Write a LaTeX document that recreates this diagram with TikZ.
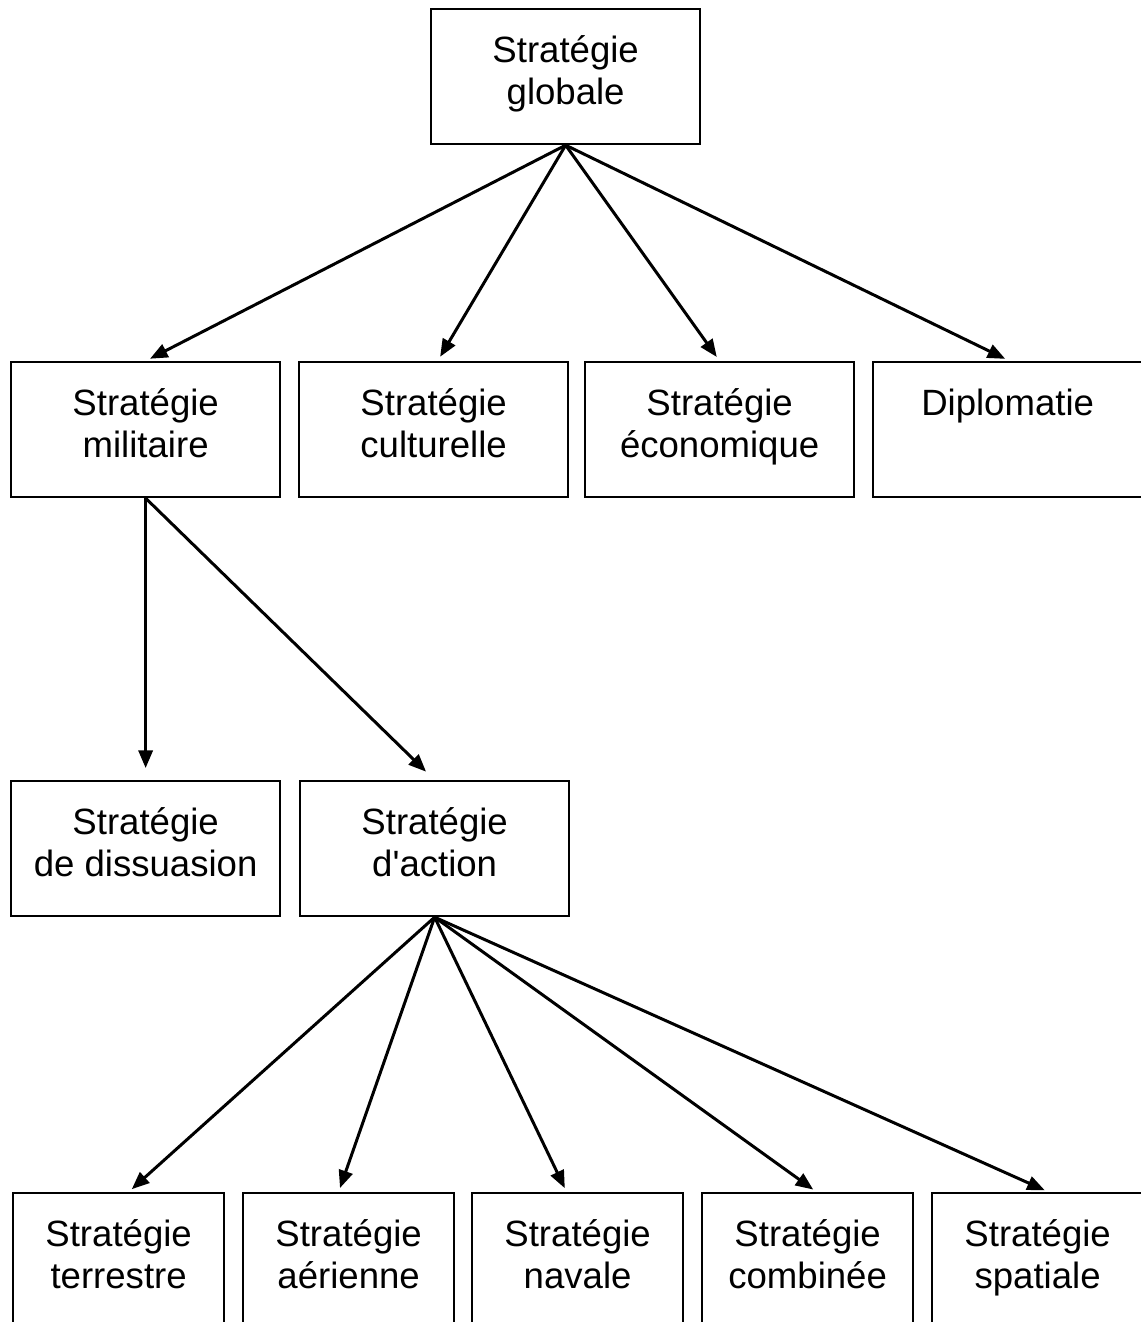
\documentclass[tikz,border=0pt]{standalone}
\usepackage{fontspec}
\newfontfamily\boxfont{Liberation Sans}
\usepackage{tikz}
\usetikzlibrary{arrows.meta}
\tikzset{
  box/.style={draw, line width=0.6pt, anchor=north west, align=center,
    minimum height=1.35cm, inner ysep=0pt,
    font=\boxfont\fontsize{10.4}{12}\selectfont},
  wide/.style={box, minimum width=2.69cm},
  narrow/.style={box, minimum width=2.11cm},
  fleche/.style={line width=0.85pt, -{Triangle[length=5pt,width=4pt]}}
}
\begin{document}
\begin{tikzpicture}[x=0.01cm,y=-0.01cm]
                    \useasboundingbox (0,0) rectangle (1140,1322);
                    \node[wide] (globale) at (430,8) {Stratégie\\globale\strut};

                    \node[wide] (militaire) at (10,361) {Stratégie\\militaire\strut};
                    \node[wide] (culturelle) at (298,361) {Stratégie\\culturelle\strut};
                    \node[wide] (economique) at (584,361) {Stratégie\\économique\strut};
                    \node[wide] (diplomatie) at (872,361) {Diplomatie\\\strut};

                    \node[wide] (dissuasion) at (10,780) {Stratégie\\de dissuasion\strut};
                    \node[wide] (action) at (299,780) {Stratégie\\d'action\strut};

                    \foreach \n/\x/\t in {terrestre/12/terrestre,aerienne/242/aérienne,
                        navale/471/navale,combinee/701/combinée,spatiale/931/spatiale}
                    {\node[narrow] (\n) at (\x,1192) {Stratégie\\\t\strut};}

                    \draw[fleche, shorten >=1.4pt] (globale.south) -- (militaire.north);
                    \draw[fleche, shorten >=1.4pt] (globale.south) -- ([xshift=0.04cm]culturelle.north);
                    \draw[fleche, shorten >=1.4pt] (globale.south) -- (economique.north);
                    \draw[fleche, shorten >=1.4pt] (globale.south) -- ([xshift=0.02cm]diplomatie.north);

                    \draw[fleche, shorten >=3.4pt] (militaire.south) -- (dissuasion.north);
                    \draw[fleche, shorten >=3.4pt] (militaire.south) -- (action.north);

                    \foreach \n/\d in {terrestre/0.1,aerienne/-0.1,navale/-0.11,combinee/0.09,spatiale/0.11}
                    {\draw[fleche, shorten >=1.2pt] (action.south) -- ([xshift=\d cm]\n.north);}
\end{tikzpicture}
\end{document}
